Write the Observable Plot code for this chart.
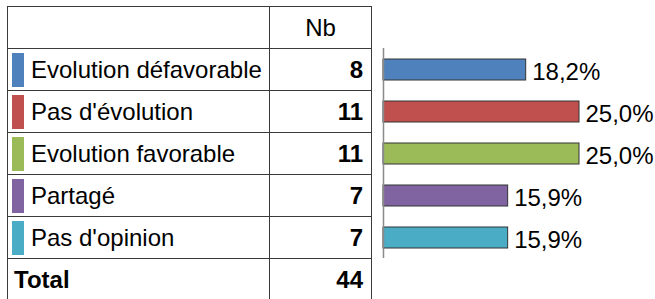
<!DOCTYPE html>
<html>
<head>
<meta charset="utf-8">
<script src="https://cdn.jsdelivr.net/npm/d3@7"></script>
<script src="https://cdn.jsdelivr.net/npm/@observablehq/plot@0.6"></script>
<style>
  html, body { margin: 0; padding: 0; background: #fff; }
  #wrap { position: relative; width: 655px; height: 299px; overflow: hidden; font-family: "Liberation Sans", Arial, sans-serif; }
  #tbl { position: absolute; left: 7px; top: 6px; display: grid; grid-template-columns: 261px 101px; grid-auto-rows: 41px; gap: 1px; padding: 1px; background: #3a3a3a; }
  .cell { background: #fff; display: flex; align-items: center; font-size: 24px; color: #000; white-space: nowrap; }
  .lab { padding-left: 4px; }
  .sw { width: 12px; height: 34px; margin-right: 7px; flex: none; }
  .num { justify-content: flex-end; padding-right: 8px; font-weight: bold; }
  .head { justify-content: center; }
  .tot { font-weight: bold; padding-left: 6px; }
  #chart { position: absolute; left: 0; top: 0; }
</style>
</head>
<body>
<div id="wrap">
  <div id="tbl"></div>
  <div id="chart"></div>
</div>
<script>
const categories = ["Evolution défavorable", "Pas d'évolution", "Evolution favorable", "Partagé", "Pas d'opinion"];
const counts = [8, 11, 11, 7, 7];
const percents = [18.2, 25.0, 25.0, 15.9, 15.9];
const colors = ["#4F81BD", "#C0504D", "#9BBB59", "#8064A2", "#4BACC6"];
const headerLabel = "Nb";
const totalLabel = "Total";
const totalCount = 44;

// Table
const tbl = document.getElementById("tbl");
function cell(cls, html) { const d = document.createElement("div"); d.className = "cell " + cls; d.innerHTML = html; tbl.appendChild(d); return d; }
cell("", "");
cell("head", headerLabel);
categories.forEach((c, i) => {
  const d = cell("lab", "");
  const s = document.createElement("div"); s.className = "sw"; s.style.background = colors[i]; d.appendChild(s);
  d.appendChild(document.createTextNode(c));
  cell("num", String(counts[i]));
});
cell("tot", totalLabel);
cell("num", String(totalCount));

// Bars
const data = categories.map((c, i) => ({cat: c, pct: percents[i]}));
const fmt = v => v.toFixed(1).replace(".", ",") + "%";
const plot = Plot.plot({
  width: 655,
  height: 299,
  marginLeft: 383,
  marginRight: 76,
  marginTop: 48,
  marginBottom: 41,
  style: {background: "transparent", overflow: "visible", fontFamily: "Liberation Sans, Arial, sans-serif"},
  x: {domain: [0, 25], axis: null},
  y: {domain: categories, paddingInner: 0.5, paddingOuter: 0.25, axis: null},
  color: {domain: categories, range: colors},
  marks: [
    Plot.barX(data, {x: "pct", y: "cat", fill: "cat", stroke: "#333", strokeWidth: 1}),
    Plot.ruleX([0], {stroke: "#8a8a8a", strokeWidth: 1.5}),
    Plot.text(data, {x: "pct", y: "cat", text: d => fmt(d.pct), textAnchor: "start", dx: 6, dy: 2, fontSize: 24, fill: "#000"})
  ]
});
document.getElementById("chart").appendChild(plot);
</script>
</body>
</html>
